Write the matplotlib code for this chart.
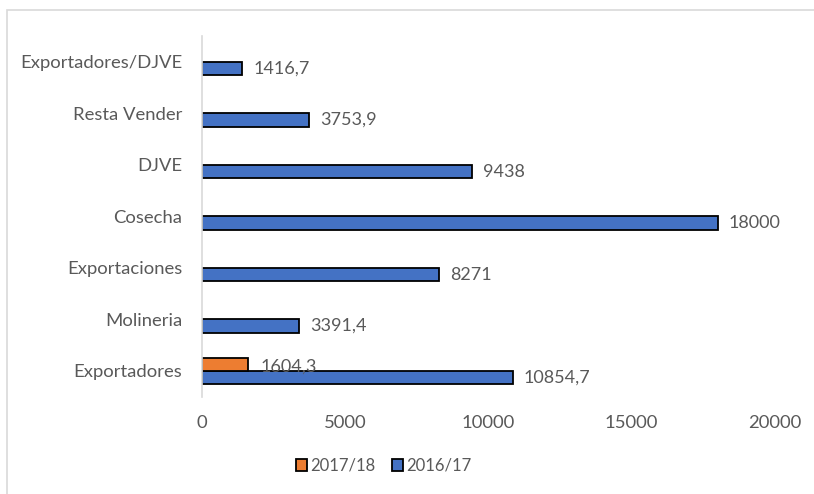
import matplotlib.pyplot as plt
import numpy as np
from matplotlib.patches import Rectangle

# data (bottom to top)
categories = ['Exportadores', 'Molineria', 'Exportaciones', 'Cosecha',
              'DJVE', 'Resta Vender', 'Exportadores/DJVE']
vals_1617 = [10854.7, 3391.4, 8271, 18000, 9438, 3753.9, 1416.7]
vals_1718 = [1604.3, None, None, None, None, None, None]
labels_1617 = ['10854,7', '3391,4', '8271', '18000', '9438', '3753,9', '1416,7']
labels_1718 = ['1604,3', '', '', '', '', '', '']

plt.rcParams['font.family'] = ['Lato', 'DejaVu Sans']
txt = '#595959'


def main():
    fig = plt.figure(figsize=(8.14, 4.94), dpi=100)
    ax = fig.add_axes([0.248, 0.197, 0.704, 0.73])

    # light gray chart border like the excel frame
    fig.patches.append(Rectangle((7 / 814, -0.1), 1.2, 1 - 10 / 494 + 0.1,
                                 transform=fig.transFigure, fill=False,
                                 edgecolor='#d9d9d9', linewidth=1.2))

    y = np.arange(len(categories))
    h = 0.26
    b_blue = ax.barh(y - h / 2, vals_1617, height=h, color='#4472c4',
                     edgecolor='black', linewidth=1.3, label='2016/17')
    v18 = [v if v is not None else 0 for v in vals_1718]
    b_orange = ax.barh(y + h / 2, v18, height=h, color='#ed7d31',
                       edgecolor='black', linewidth=1.3, label='2017/18')
    # hide the empty orange bars
    for bar, v in zip(b_orange, vals_1718):
        if v is None:
            bar.set_visible(False)

    ax.bar_label(b_blue, labels=labels_1617, padding=8, fontsize=13,
                 color=txt, label_type='edge')
    for bar, lab in zip(b_orange, labels_1718):
        if lab:
            ax.text(bar.get_width() + 450, bar.get_y() + bar.get_height() / 2 - 0.05,
                    lab, va='center', ha='left', fontsize=13, color=txt)

    ax.set_xlim(0, 20000)
    ax.set_ylim(-0.5, len(categories) - 0.5)
    ax.set_xticks([0, 5000, 10000, 15000, 20000])
    ax.set_yticks(y)
    ax.set_yticklabels(categories)
    ax.tick_params(axis='both', length=0, labelsize=13.3, colors=txt)
    ax.tick_params(axis='y', pad=14)
    ax.tick_params(axis='x', pad=13)
    for s in ['top', 'right', 'bottom']:
        ax.spines[s].set_visible(False)
    ax.spines['left'].set_color('#d9d9d9')
    ax.spines['left'].set_linewidth(1.2)

    handles = [b_orange, b_blue]
    leg = fig.legend(handles, ['2017/18', '2016/17'], loc='center',
                     bbox_to_anchor=(0.471, 0.057), ncol=2, frameon=False,
                     fontsize=12, handlelength=0.7, handleheight=0.7,
                     handletextpad=0.15, columnspacing=1.0)
    for t in leg.get_texts():
        t.set_color(txt)

    plt.savefig('out.png', dpi=100)


if __name__ == "__main__":
    main()
